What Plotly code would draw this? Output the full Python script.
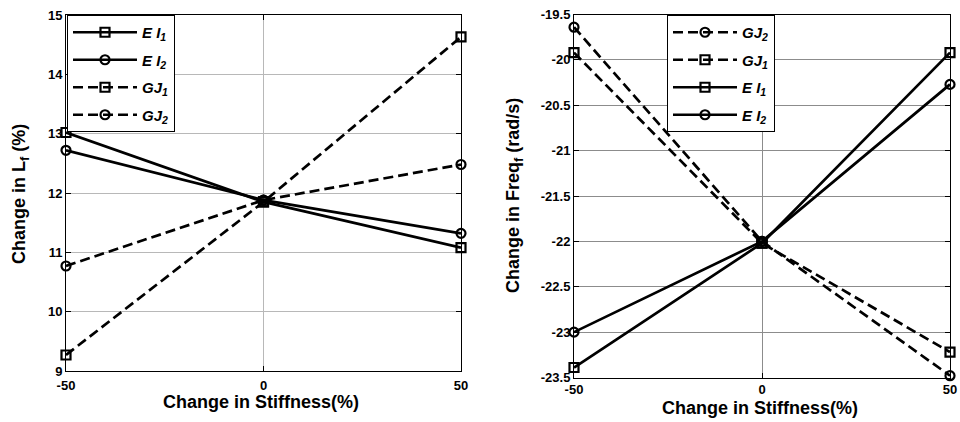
import plotly.graph_objects as go

# ---------------- data ----------------
stiffness = [-50, 0, 50]

# Left panel: Change in L_f (%)
lf_EI1 = [13.02, 11.85, 11.08]
lf_EI2 = [12.72, 11.88, 11.32]
lf_GJ1 = [9.27, 11.85, 14.63]
lf_GJ2 = [10.77, 11.88, 12.48]

# Right panel: Change in Freq_f (rad/s)
fr_GJ2 = [-19.64, -22.0, -23.48]
fr_GJ1 = [-19.92, -22.02, -23.22]
fr_EI1 = [-23.39, -22.02, -19.92]
fr_EI2 = [-23.0, -22.0, -20.27]

x_ticks = [-50, 0, 50]
x_ticktext = ["-50", "0", "50"]
left_yticks = [9, 10, 11, 12, 13, 14, 15]
left_yticktext = ["9", "10", "11", "12", "13", "14", "15"]
right_yticks = [-23.5, -23, -22.5, -22, -21.5, -21, -20.5, -20, -19.5]
right_yticktext = ["-23.5", "-23", "-22.5", "-22", "-21.5", "-21", "-20.5", "-20", "-19.5"]

FONT = "Liberation Sans, Arial, sans-serif"
DASH = "10px,5px"

fig = go.Figure()

def add(x, y, name, symbol, dash, xa, ya, legend, group):
    fig.add_trace(go.Scatter(
        x=x, y=y, name=name, mode="lines+markers",
        line=dict(color="black", width=2.7, dash=dash),
        marker=dict(symbol=symbol, size=9, color="black", line=dict(width=2.2, color="black")),
        xaxis=xa, yaxis=ya, legend=legend, legendgroup=group, cliponaxis=False,
    ))

add(stiffness, lf_EI1, "<b><i>E I<sub>1</sub></i></b>", "square-open", "solid", "x", "y", "legend", "a1")
add(stiffness, lf_EI2, "<b><i>E I<sub>2</sub></i></b>", "circle-open", "solid", "x", "y", "legend", "a2")
add(stiffness, lf_GJ1, "<b><i>GJ<sub>1</sub></i></b>", "square-open", DASH, "x", "y", "legend", "a3")
add(stiffness, lf_GJ2, "<b><i>GJ<sub>2</sub></i></b>", "circle-open", DASH, "x", "y", "legend", "a4")

add(stiffness, fr_GJ2, "<b><i>GJ<sub>2</sub></i></b>", "circle-open", DASH, "x2", "y2", "legend2", "b1")
add(stiffness, fr_GJ1, "<b><i>GJ<sub>1</sub></i></b>", "square-open", DASH, "x2", "y2", "legend2", "b2")
add(stiffness, fr_EI1, "<b><i>E I<sub>1</sub></i></b>", "square-open", "solid", "x2", "y2", "legend2", "b3")
add(stiffness, fr_EI2, "<b><i>E I<sub>2</sub></i></b>", "circle-open", "solid", "x2", "y2", "legend2", "b4")

W, H = 960, 422
def fx(px): return px / W
def fy(py): return 1 - py / H

tickfont = dict(family=FONT, size=13, color="black", weight="bold")
axis_common = dict(
    showline=True, linecolor="black", linewidth=1, mirror="ticks",
    ticks="inside", ticklen=5, tickcolor="black", tickwidth=1,
    showgrid=True, zeroline=False, automargin=False, tickfont=tickfont,
)

legend_common = dict(
    xanchor="left", yanchor="top",
    bgcolor="white", bordercolor="black", borderwidth=1,
    font=dict(family=FONT, size=15, color="black"), itemwidth=64,
    tracegroupgap=5,
)

fig.update_layout(
    width=W, height=H,
    margin=dict(l=0, r=0, t=0, b=0),
    paper_bgcolor="white", plot_bgcolor="white",
    font=dict(family=FONT, color="black"),
    xaxis=dict(domain=[fx(66), fx(461)], range=[-50, 50], tickvals=x_ticks, ticktext=x_ticktext,
               anchor="y", gridcolor="#b8b8b8", ticklabelstandoff=2, **axis_common),
    yaxis=dict(domain=[fy(371), fy(15)], range=[9, 15], tickvals=left_yticks, ticktext=left_yticktext,
               anchor="x", gridcolor="#b8b8b8", **axis_common),
    xaxis2=dict(domain=[fx(574), fx(950)], range=[-50, 50], tickvals=x_ticks, ticktext=x_ticktext,
                anchor="y2", gridcolor="#8c8c8c", **axis_common),
    yaxis2=dict(domain=[fy(377.5), fy(14.5)], range=[-23.5, -19.5], tickvals=right_yticks,
                ticktext=right_yticktext, anchor="x2", gridcolor="#8c8c8c", **axis_common),
    legend=dict(x=fx(67), y=fy(15), **legend_common),
    legend2=dict(x=fx(667), y=fy(15), **legend_common),
    showlegend=True,
)

titlefont = dict(family=FONT, size=18, color="black", weight="bold")
fig.add_annotation(text="Change in Stiffness(%)", x=fx(261), y=fy(402), xref="paper", yref="paper",
                   showarrow=False, font=titlefont, xanchor="center", yanchor="middle")
fig.add_annotation(text="Change in Stiffness(%)", x=fx(760), y=fy(408), xref="paper", yref="paper",
                   showarrow=False, font=titlefont, xanchor="center", yanchor="middle")
fig.add_annotation(text="Change in L<sub>f</sub> (%)", x=fx(20), y=fy(194), xref="paper", yref="paper",
                   showarrow=False, font=titlefont, textangle=-90, xanchor="center", yanchor="middle")
fig.add_annotation(text="Change in Freq<sub>f</sub> (rad/s)", x=fx(514), y=fy(196), xref="paper", yref="paper",
                   showarrow=False, font=titlefont, textangle=-90, xanchor="center", yanchor="middle")

fig.write_html("out.html")
